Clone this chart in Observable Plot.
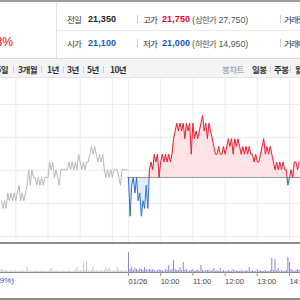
<!DOCTYPE html>
<html><head><meta charset="utf-8">
<script src="https://cdn.jsdelivr.net/npm/d3@7"></script>
<script src="https://cdn.jsdelivr.net/npm/@observablehq/plot@0.6"></script>
<style>
html,body{margin:0;padding:0;width:300px;height:300px;overflow:hidden;background:#fff;}
#wrap{position:relative;width:300px;height:300px;overflow:hidden;font-family:"Liberation Sans",Arial,"Noto Sans CJK KR",sans-serif;}
.t{position:absolute;white-space:nowrap;line-height:12px;height:12px;}
.k{font-family:"Noto Sans CJK KR",sans-serif;font-size:8.5px;letter-spacing:-0.8px;color:#333;}
.n{font-size:9px;font-weight:bold;color:#222;letter-spacing:0.1px;}
.g{font-size:8.8px;color:#555;}
.red{color:#e8001e;} .blue{color:#1657cf;}
.sep{position:absolute;width:1px;background:#cfcfcf;}
.ln{position:absolute;}
.tab{font-family:"Noto Sans CJK KR",sans-serif;font-size:8.5px;font-weight:bold;color:#333;letter-spacing:-0.6px;}
#price,#vol{position:absolute;left:0;}
</style></head>
<body><div id="wrap">
  <div class="ln" style="left:0;top:0;width:300px;height:2px;background:#9c9c9c"></div>
  <div class="ln" style="left:56px;top:2px;width:1px;height:56px;background:#e3e3e3"></div>
  <div class="ln" style="left:57px;top:30px;width:243px;height:1px;background:#ececec"></div>
  <div class="t red" style="right:287px;top:35px;font-size:12px;line-height:14px;height:14px;">+0.23%</div>

  <div class="t k" style="left:67px;top:13px">전일</div>
  <div class="t n" style="left:88px;top:13px">21,350</div>
  <div class="sep" style="left:137px;top:15px;height:8px"></div>
  <div class="t k" style="left:143px;top:13px">고가</div>
  <div class="t n red" style="left:162px;top:13px">21,750</div>
  <div class="t g" style="left:192px;top:13px">(<span class="k" style="color:#555">상한가</span> 27,750)</div>
  <div class="sep" style="left:280px;top:15px;height:8px"></div>
  <div class="t k" style="left:284px;top:13px">거래량</div>

  <div class="t k" style="left:67px;top:37px">시가</div>
  <div class="t n blue" style="left:88px;top:37px">21,100</div>
  <div class="sep" style="left:137px;top:39px;height:8px"></div>
  <div class="t k" style="left:143px;top:37px">저가</div>
  <div class="t n blue" style="left:162px;top:37px">21,000</div>
  <div class="t g" style="left:192px;top:37px">(<span class="k" style="color:#555">하한가</span> 14,950)</div>
  <div class="sep" style="left:280px;top:39px;height:8px"></div>
  <div class="t k" style="left:284px;top:37px">거래대금</div>

  <div class="ln" style="left:0;top:58px;width:300px;height:18px;background:#f4f4f6;border-top:1px solid #dadada;border-bottom:1px solid #e4e4e4"></div>
  <div class="t tab" style="right:292px;top:63px">5일</div>
  <div class="sep" style="left:13px;top:66px;height:7px"></div>
  <div class="t tab" style="left:18px;top:63px">3개월</div>
  <div class="sep" style="left:41px;top:66px;height:7px"></div>
  <div class="t tab" style="left:47px;top:63px">1년</div>
  <div class="sep" style="left:63px;top:66px;height:7px"></div>
  <div class="t tab" style="left:67px;top:63px">3년</div>
  <div class="sep" style="left:83px;top:66px;height:7px"></div>
  <div class="t tab" style="left:87px;top:63px">5년</div>
  <div class="sep" style="left:103px;top:66px;height:7px"></div>
  <div class="t tab" style="left:110px;top:63px">10년</div>
  <div class="t tab" style="left:222px;top:63px;color:#8a8a8a;font-weight:normal">봉차트</div>
  <div class="t tab" style="left:252px;top:63px">일봉</div>
  <div class="sep" style="left:270px;top:66px;height:7px"></div>
  <div class="t tab" style="left:274px;top:63px">주봉</div>
  <div class="sep" style="left:290px;top:66px;height:7px"></div>
  <div class="t tab" style="left:295px;top:63px">월봉</div>

  <div id="price" style="top:77px"></div>
  <div id="vol" style="top:243px"></div>
  <div class="ln" style="left:0;top:242px;width:300px;height:2px;background:#8e8e8e"></div>
  <div class="t blue" style="right:286px;top:275px;font-size:8px">(-0.39%)</div>
  <div class="ln" style="left:0;top:298px;width:300px;height:2px;background:#8e8e8e"></div>
</div>
<script>
const prevClose = 21350;
const prevStart = -237;
const stepMin = 3;
const prevPrices = [21200,21150,21200,21150,21250,21200,21250,21200,21250,21200,21250,21300,21200,21250,21200,21250,
  21300,21400,21300,21400,21350,21350,21300,21350,21300,21350,21300,21350,21350,21350,21450,21400,21450,21350,21400,
  21350,21300,21400,21400,21400,21400,21400,21450,21400,21450,21400,21450,21400,21500,21450,21400,21450,21400,21450,
  21450,21500,21550,21500,21550,21500,21450,21500,21450,21500,21400,21350,21400,21350,21400,21350,21400,21400,21400,
  21350,21300,21400,21400,21400,21400];
const prevVolumes = [3,2,1,2,1,1,2,1,1,2,1,1,1,2,1,1,5,1,2,1,1,1,2,1,1,2,1,1,1,1,2,4,1,1,2,1,1,1,2,1,1,1,2,1,1,1,2,
  5,1,2,1,9,2,11,2,1,2,5,1,2,1,1,2,1,2,4,2,4,2,1,2,1,5,2,1,2,1,2,1];
const todayPrices = [21350,21100,21300,21350,21250,21350,21200,21250,21100,21200,21150,21300,21150,
  21400,21450,21400,21500,21450,21500,21350,21450,21500,21450,21500,21450,21500,21450,21500,21600,21650,
  21700,21650,21700,21650,21700,21600,21700,21650,21700,21500,21700,21600,21650,21600,21650,21700,21750,
  21650,21700,21600,21700,21650,21600,21550,21500,21500,21550,21500,21500,21550,21500,21550,
  21600,21550,21600,21500,21600,21550,21600,21550,21500,21550,21500,21550,21500,21550,21500,21500,
  21450,21500,21450,21450,21500,21550,21600,21500,21550,21500,21550,21500,21450,
  21400,21450,21400,21450,21400,21450,21400,21400,21300,21350,21400,21350,21450,21450,21400,21450];
const todayVolumes = [20,3,5,2,4,3,2,4,3,2,5,3,2,3,2,3,2,1,2,3,2,2,1,3,2,7,2,3,12,3,2,2,5,2,10,2,3,1,2,2,3,
  1,2,2,1,7,2,1,2,2,2,1,2,4,1,2,1,4,1,2,1,1,2,1,1,3,1,2,1,1,2,1,1,2,1,5,1,2,1,1,3,1,2,1,1,2,1,1,2,
  14,2,13,2,4,1,2,1,1,2,15,10,3,2,1,2,3,2];
const axisTimes = [0,60,120,180,240,300];
const axisLabels = ["01/26","10:00","11:00","12:00","13:00","14:00"];
const gridTimes = [-210,-150,-90,-30,0,60,120,180,240,300];
const gridPrices = [21821,21608,21395,21182,20969];
const xDomain = [-238.5, 320.5];
const yDomain = [20924, 21995];

const prev = prevPrices.map((p,j)=>({t: prevStart + stepMin*j, p, v: prevVolumes[j]}));
const today = todayPrices.map((p,i)=>({t: stepMin*i, p, v: todayVolumes[i]}));
const font = "Liberation Sans, Arial, sans-serif";

const price = Plot.plot({
  width:300, height:166, margin:0,
  style:{background:"transparent", fontFamily:font},
  x:{domain:xDomain, axis:null},
  y:{domain:yDomain, axis:null},
  marks:[
    Plot.ruleY(gridPrices, {stroke:"#ededed"}),
    Plot.ruleX(gridTimes, {stroke:"#ededed"}),
    Plot.areaY(today, {x:"t", y1:prevClose, y2:d=>Math.max(d.p, prevClose), fill:"#fde3e6"}),
    Plot.areaY(today, {x:"t", y1:prevClose, y2:d=>Math.min(d.p, prevClose), fill:"#e2ebf8"}),
    Plot.ruleY([prevClose], {x1:-1.5, x2:xDomain[1], stroke:"#9a9a9a"}),
    Plot.line(prev, {x:"t", y:"p", stroke:"#b8b8b8", strokeWidth:1}),
    Plot.line(today, {x:"t", y:"p", stroke:"#ee1a2d", strokeWidth:1}),
    Plot.line(today, {x:"t", y:"p", stroke:"#2c6dd3", strokeWidth:1})
  ]
});
document.getElementById("price").appendChild(price);
const yb = price.scale("y").apply(prevClose);
const sel = d3.select(price);
const defs = sel.insert("defs", ":first-child");
defs.append("clipPath").attr("id","clipUp").append("rect").attr("x",-5).attr("y",-5).attr("width",310).attr("height",yb+5);
defs.append("clipPath").attr("id","clipDn").append("rect").attr("x",-5).attr("y",yb).attr("width",310).attr("height",200);
const lines = price.querySelectorAll('g[aria-label="line"]');
lines[1].setAttribute("clip-path","url(#clipUp)");
lines[2].setAttribute("clip-path","url(#clipDn)");

const vol = Plot.plot({
  width:300, height:57, marginTop:0, marginBottom:28, marginLeft:0, marginRight:0,
  style:{background:"transparent", fontFamily:font, overflow:"visible"},
  x:{domain:xDomain, axis:null},
  y:{domain:[0,29], axis:null},
  marks:[
    Plot.ruleX(prev, {x:"t", y1:0, y2:"v", stroke:"#c4c4c4"}),
    Plot.ruleX(today, {x:"t", y1:0, y2:"v", stroke:"#9182d0"}),
    Plot.ruleY([0], {stroke:"#8c8c8c"}),
    Plot.ruleX(axisTimes, {y1:0, y2:-4, stroke:"#999"}),
    Plot.text(axisTimes, {x:d=>d, y:0, text:(d,i)=>axisLabels[i], textAnchor:"start", dy:9, fontSize:7.5, fill:"#444"})
  ]
});
document.getElementById("vol").appendChild(vol);
</script>
</body></html>
